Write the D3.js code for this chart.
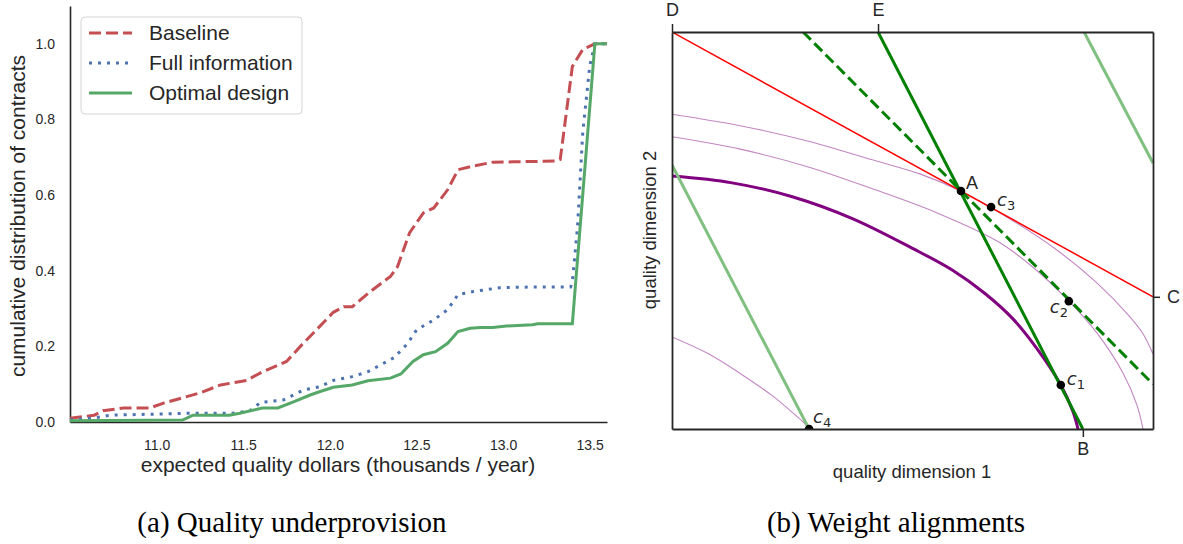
<!DOCTYPE html>
<html>
<head>
<meta charset="utf-8">
<script src="https://cdn.jsdelivr.net/npm/d3@7"></script>
<style>
  body { margin: 0; background: #fff; }
  svg { display: block; }
</style>
</head>
<body>
<svg id="fig" width="1183" height="544"></svg>
<script>
// ---------- panel (a): cumulative distributions ----------
const xTicksA = [11.0, 11.5, 12.0, 12.5, 13.0, 13.5]
const yTicksA = [0, 0.2, 0.4, 0.6, 0.8, 1.0]
const seriesNames = ["Baseline", "Full information", "Optimal design"]

const baselineX = [10.5, 10.64, 10.69, 10.81, 10.96, 11.04, 11.25, 11.37, 11.52, 11.6, 11.75, 11.83, 12.02, 12.08, 12.13, 12.22, 12.35, 12.39, 12.46, 12.54, 12.6, 12.68, 12.74, 12.81, 12.94, 13.06, 13.31, 13.33, 13.4, 13.46, 13.53, 13.6]
const baselineY = [0.01, 0.018, 0.03, 0.037, 0.037, 0.05, 0.077, 0.098, 0.11, 0.13, 0.16, 0.2, 0.29, 0.305, 0.305, 0.34, 0.385, 0.41, 0.5, 0.553, 0.566, 0.614, 0.667, 0.675, 0.687, 0.688, 0.69, 0.694, 0.94, 0.985, 1.0, 1.0]

const fullInfoX = [10.5, 10.63, 10.73, 11.18, 11.44, 11.54, 11.6, 11.73, 11.85, 11.94, 12.02, 12.13, 12.22, 12.37, 12.45, 12.5, 12.6, 12.68, 12.74, 12.83, 12.98, 13.17, 13.39, 13.4, 13.43, 13.46, 13.5, 13.53, 13.6]
const fullInfoY = [0.005, 0.01, 0.018, 0.023, 0.023, 0.03, 0.052, 0.058, 0.085, 0.093, 0.11, 0.12, 0.133, 0.17, 0.208, 0.243, 0.27, 0.297, 0.337, 0.345, 0.355, 0.357, 0.357, 0.37, 0.517, 0.765, 0.94, 1.0, 1.0]

const optimalX = [10.5, 11.15, 11.21, 11.42, 11.48, 11.61, 11.7, 11.79, 11.89, 11.94, 12.02, 12.13, 12.22, 12.35, 12.41, 12.48, 12.54, 12.61, 12.68, 12.74, 12.81, 12.87, 12.94, 13.02, 13.17, 13.2, 13.4, 13.53, 13.6]
const optimalY = [0.003, 0.005, 0.018, 0.018, 0.023, 0.037, 0.037, 0.053, 0.072, 0.08, 0.092, 0.098, 0.109, 0.116, 0.127, 0.16, 0.178, 0.186, 0.208, 0.239, 0.248, 0.25, 0.25, 0.254, 0.257, 0.26, 0.26, 1.0, 1.0]

// ---------- panel (b): weight alignments ----------
const frontier = [[0, 6.37], [1.5, 6.2], [3.0, 5.85], [4.5, 5.3], [6.0, 4.55], [7.0, 4.0], [7.8, 3.42], [8.5, 2.78], [9.1, 2.03], [9.7, 1.11], [10.0, 0.45], [10.13, 0]]
const isoUpper = [[0, 7.93], [1.7, 7.64], [3.4, 7.25], [5.0, 6.78], [6.2, 6.42], [7.21, 5.99], [8.4, 5.31], [9.6, 4.51], [10.6, 3.68], [11.43, 2.82], [11.75, 2.4], [12, 1.89]]
const isoMiddle = [[0, 7.36], [1.7, 7.05], [3.4, 6.6], [5.0, 6.05], [6.6, 5.45], [8.1, 4.74], [9.0, 4.08], [9.9, 3.22], [10.6, 2.42], [11.25, 1.41], [11.6, 0.6], [11.75, 0]]
const isoLow = [[0, 2.32], [0.9, 1.9], [1.7, 1.4], [2.5, 0.84], [3.0, 0.42], [3.3, 0.15], [3.42, 0]]

const redLine = [[0, 10], [12, 3.33]]
const greenSolid = [[5.14, 10], [10.25, 0]]
const greenDashed = [[3.27, 10], [12, 1.13]]
const lightGreenLow = [[0, 6.65], [3.42, 0]]
const lightGreenHigh = [[10.28, 10], [12, 6.7]]

const pointNames = ["A", "c3", "c2", "c1", "c4"]
const pointCoords = [[7.21, 5.995], [7.96, 5.59], [9.9, 3.22], [9.7, 1.11], [3.42, 0]]

const topTicks = [0, 5.14]
const topTickLabels = ["D", "E"]
const bottomTicks = [10.25]
const bottomTickLabels = ["B"]
const rightTicks = [3.33]
const rightTickLabels = ["C"]

const captions = ["(a) Quality underprovision", "(b) Weight alignments"]

const svg = d3.select("#fig")
const sans = "'Liberation Sans', Arial, sans-serif"
const ink = "#262626"

// ================= panel (a) =================
const xA = d3.scaleLinear().domain([10.5, 13.6]).range([70, 607])
const yA = d3.scaleLinear().domain([0, 1.1]).range([422, 6])
const gA = svg.append("g")

const axA = gA.append("g")
    .attr("transform", "translate(0,422)")
    .call(d3.axisBottom(xA).tickValues(xTicksA).tickFormat(d3.format(".1f")).tickSize(0).tickSizeOuter(0).tickPadding(18))
const ayA = gA.append("g")
    .attr("transform", "translate(70,0)")
    .call(d3.axisLeft(yA).tickValues(yTicksA).tickFormat(d3.format(".1f")).tickSize(0).tickSizeOuter(0).tickPadding(15))

for (const ax of [axA, ayA]) {
    ax.select(".domain").attr("stroke", ink).attr("stroke-width", 1.6)
    ax.selectAll("text").attr("font-family", sans).attr("font-size", 14).attr("fill", ink)
}

const lineA = d3.line().x(d => xA(d[0])).y(d => yA(d[1]))
const seriesA = [
    { pts: d3.zip(baselineX, baselineY), color: "#c44e52", dash: "12,5" },
    { pts: d3.zip(fullInfoX, fullInfoY), color: "#4c72b0", dash: "3,6" },
    { pts: d3.zip(optimalX, optimalY), color: "#55a868", dash: null }
]

gA.selectAll("path.series")
    .data(seriesA)
    .join("path")
    .attr("class", "series")
    .attr("d", d => lineA(d.pts))
    .attr("fill", "none")
    .attr("stroke", d => d.color)
    .attr("stroke-width", 3)
    .attr("stroke-dasharray", d => d.dash)

// legend
const legend = gA.append("g")
legend.append("rect")
    .attr("x", 81).attr("y", 17).attr("width", 221).attr("height", 97).attr("rx", 4)
    .attr("fill", "#fff").attr("stroke", "#d5d5d5").attr("stroke-width", 1)

const items = legend.selectAll("g.item")
    .data(seriesA)
    .join("g")
    .attr("class", "item")
    .attr("transform", (d, i) => `translate(89,${33 + i * 30})`)

items.append("line")
    .attr("x1", 0).attr("x2", 43)
    .attr("stroke", d => d.color)
    .attr("stroke-width", 3)
    .attr("stroke-dasharray", d => d.dash)
items.append("text")
    .attr("x", 60).attr("dy", "0.35em")
    .attr("font-family", sans).attr("font-size", 21).attr("fill", ink)
    .text((d, i) => seriesNames[i])

gA.append("text")
    .attr("transform", "translate(25,216) rotate(-90)")
    .attr("text-anchor", "middle")
    .attr("font-family", sans).attr("font-size", 21).attr("fill", ink)
    .text("cumulative distribution of contracts")

gA.append("text")
    .attr("x", 338).attr("y", 472)
    .attr("text-anchor", "middle")
    .attr("font-family", sans).attr("font-size", 21).attr("fill", ink)
    .text("expected quality dollars (thousands / year)")

// ================= panel (b) =================
const xB = d3.scaleLinear().domain([0, 12]).range([672, 1153])
const yB = d3.scaleLinear().domain([0, 10]).range([429, 32])
const gB = svg.append("g")

svg.append("defs").append("clipPath").attr("id", "boxB")
    .append("rect")
    .attr("x", xB(0)).attr("y", yB(10))
    .attr("width", xB(12) - xB(0)).attr("height", yB(0) - yB(10))

const plotB = gB.append("g").attr("clip-path", "url(#boxB)")
const lineB = d3.line().x(d => xB(d[0])).y(d => yB(d[1]))
const curveB = d3.line().x(d => xB(d[0])).y(d => yB(d[1])).curve(d3.curveCatmullRom)

// thin iso-curves
for (const iso of [isoUpper, isoMiddle, isoLow]) {
    plotB.append("path").attr("d", curveB(iso))
        .attr("fill", "none").attr("stroke", "#c386c3").attr("stroke-width", 1.1)
}
// frontier
plotB.append("path").attr("d", curveB(frontier))
    .attr("fill", "none").attr("stroke", "#800080").attr("stroke-width", 3)

const straight = [
    { pts: lightGreenLow, color: "#80c080", w: 3, dash: null },
    { pts: lightGreenHigh, color: "#80c080", w: 3, dash: null },
    { pts: redLine, color: "#ff0000", w: 1.5, dash: null },
    { pts: greenDashed, color: "#008000", w: 3, dash: "11,5" },
    { pts: greenSolid, color: "#008000", w: 3, dash: null }
]
plotB.selectAll("path.straight")
    .data(straight)
    .join("path")
    .attr("class", "straight")
    .attr("d", d => lineB(d.pts))
    .attr("fill", "none")
    .attr("stroke", d => d.color)
    .attr("stroke-width", d => d.w)
    .attr("stroke-dasharray", d => d.dash)

plotB.selectAll("circle")
    .data(pointCoords)
    .join("circle")
    .attr("cx", d => xB(d[0]))
    .attr("cy", d => yB(d[1]))
    .attr("r", 4.3)
    .attr("fill", "#000")

// spines with the lettered ticks
const tickFmt = labels => (d, i) => labels[i]
const bTop = gB.append("g").attr("transform", `translate(0,${yB(10)})`)
    .call(d3.axisTop(xB).tickValues(topTicks).tickFormat(tickFmt(topTickLabels)).tickSize(8).tickSizeOuter(0).tickPadding(8))
const bBottom = gB.append("g").attr("transform", `translate(0,${yB(0)})`)
    .call(d3.axisBottom(xB).tickValues(bottomTicks).tickFormat(tickFmt(bottomTickLabels)).tickSize(8).tickSizeOuter(0).tickPadding(5))
const bRight = gB.append("g").attr("transform", `translate(${xB(12)},0)`)
    .call(d3.axisRight(yB).tickValues(rightTicks).tickFormat(tickFmt(rightTickLabels)).tickSize(7).tickSizeOuter(0).tickPadding(7))
const bLeft = gB.append("g").attr("transform", `translate(${xB(0)},0)`)
    .call(d3.axisLeft(yB).tickValues([]).tickSizeOuter(0))

for (const ax of [bTop, bBottom, bRight, bLeft]) {
    ax.select(".domain").attr("stroke", ink).attr("stroke-width", 1.8)
    ax.selectAll(".tick line").attr("stroke", ink).attr("stroke-width", 1.5)
    ax.selectAll("text").attr("font-family", sans).attr("font-size", 18).attr("fill", ink)
}

// point labels
const labelOffsets = [[5, -2], [6, -1], [-19, 12], [6, 0], [4, -6]]
const labels = gB.selectAll("text.pt")
    .data(pointNames)
    .join("text")
    .attr("class", "pt")
    .attr("x", (d, i) => xB(pointCoords[i][0]) + labelOffsets[i][0])
    .attr("y", (d, i) => yB(pointCoords[i][1]) + labelOffsets[i][1])
    .attr("fill", ink)
    .attr("font-size", 18)

labels.filter(d => d === "A")
    .attr("font-family", sans)
    .text(d => d)
labels.filter(d => d !== "A").each(function (d) {
    const t = d3.select(this).attr("font-family", "'DejaVu Sans', sans-serif")
    t.append("tspan").attr("font-style", "italic").text(d[0])
    t.append("tspan").attr("font-size", 13).attr("dy", 4).text(d.slice(1))
})

gB.append("text")
    .attr("x", 912).attr("y", 478)
    .attr("text-anchor", "middle")
    .attr("font-family", sans).attr("font-size", 18.5).attr("fill", ink)
    .text("quality dimension 1")

gB.append("text")
    .attr("transform", "translate(656,230) rotate(-90)")
    .attr("text-anchor", "middle")
    .attr("font-family", sans).attr("font-size", 18.5).attr("fill", ink)
    .text("quality dimension 2")

// ================= captions =================
svg.selectAll("text.caption")
    .data(captions)
    .join("text")
    .attr("class", "caption")
    .attr("x", (d, i) => [292, 896][i])
    .attr("y", 532)
    .attr("text-anchor", "middle")
    .attr("font-family", "'Liberation Serif', 'DejaVu Serif', serif")
    .attr("font-size", 29)
    .attr("fill", "#000")
    .text(d => d)
</script>
</body>
</html>
